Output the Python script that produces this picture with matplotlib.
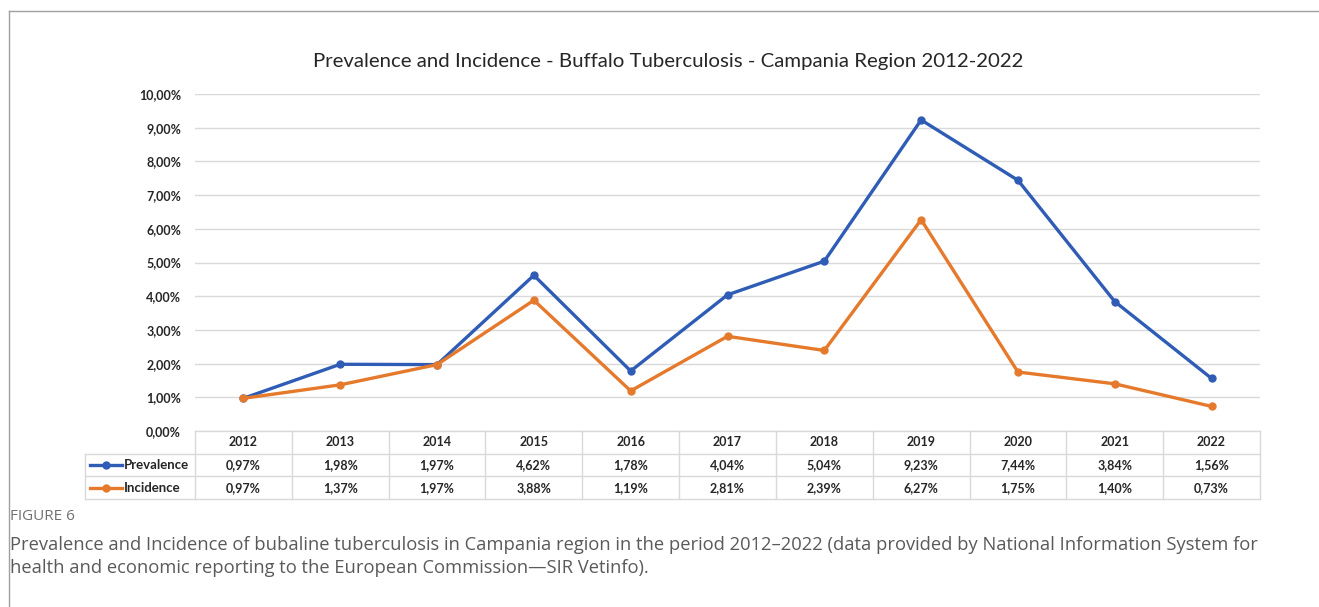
import matplotlib.pyplot as plt
from matplotlib.lines import Line2D
import numpy as np

plt.rcParams['font.family'] = ['Lato', 'DejaVu Sans']

years = ['2012', '2013', '2014', '2015', '2016', '2017', '2018', '2019', '2020', '2021', '2022']
prevalence = [0.97, 1.98, 1.97, 4.62, 1.78, 4.04, 5.04, 9.23, 7.44, 3.84, 1.56]
incidence = [0.97, 1.37, 1.97, 3.88, 1.19, 2.81, 2.39, 6.27, 1.75, 1.40, 0.73]
series_names = ['Prevalence', 'Incidence']

blue = '#2f5cb5'
orange = '#e57a2c'
grid_c = '#d9d9d9'
txt_c = '#262626'

W, H = 1319, 607
fig = plt.figure(figsize=(W / 100, H / 100), dpi=100)


def fx(px):
    return px / W


def fy(py):
    return 1 - py / H


# outer frame (top + left)
fig.add_artist(Line2D([fx(9), 1], [fy(11), fy(11)], color='#a0a0a0', lw=1))
fig.add_artist(Line2D([fx(9), fx(9)], [fy(11), 0], color='#a0a0a0', lw=1))

# main plot
left, right, top, bot = 195, 1260, 94, 431
ax = fig.add_axes([fx(left), fy(bot), fx(right - left), (bot - top) / H])
x = np.arange(len(years))
ax.plot(x, prevalence, color=blue, lw=2.4, marker='o', ms=5, zorder=3)
ax.plot(x, incidence, color=orange, lw=2.4, marker='o', ms=5, zorder=3)
ax.set_xlim(-0.5, len(years) - 0.5)
ax.set_ylim(0, 10)
ax.set_yticks(np.arange(0, 11, 1))
ax.set_yticklabels([f'{v},00%' for v in range(11)], fontsize=9, fontweight='bold', color=txt_c)
ax.tick_params(axis='y', length=0, pad=10)
ax.set_xticks([])
ax.grid(axis='y', color=grid_c, lw=1)
ax.set_axisbelow(True)
for s in ax.spines.values():
    s.set_visible(False)

fig.text(fx(668), fy(61), 'Prevalence and Incidence - Buffalo Tuberculosis - Campania Region 2012-2022',
         ha='center', va='center', fontsize=14.7, color=txt_c)

# data table below the axes
tab = fig.add_axes([fx(left), fy(499), fx(right - left), (499 - bot) / H])
tab.set_xlim(-0.5, len(years) - 0.5)
tab.set_ylim(3, 0)
tab.axis('off')
colw = (right - left) / len(years)
x0 = -0.5 - (left - 85) / colw
lkw = dict(color=grid_c, lw=1, clip_on=False)
tab.plot([-0.5, len(years) - 0.5], [0, 0], **lkw)
for r in (1, 2, 3):
    tab.plot([x0, len(years) - 0.5], [r, r], **lkw)
for c in range(len(years) + 1):
    tab.plot([c - 0.5, c - 0.5], [0, 3], **lkw)
tab.plot([x0, x0], [1, 3], **lkw)

tkw = dict(ha='center', va='center', fontsize=9, fontweight='bold', color=txt_c)
for i, yr in enumerate(years):
    tab.text(i, 0.5, yr, **tkw)
    tab.text(i, 1.5, f'{prevalence[i]:.2f}%'.replace('.', ','), **tkw)
    tab.text(i, 2.5, f'{incidence[i]:.2f}%'.replace('.', ','), **tkw)

k0 = -0.5 - (left - 90) / colw
k1 = -0.5 - (left - 122) / colw
for r, (name, col) in enumerate(zip(series_names, [blue, orange])):
    yy = r + 1.5
    tab.plot([k0, k1], [yy, yy], color=col, lw=2.4, clip_on=False)
    tab.plot([(k0 + k1) / 2], [yy], 'o', color=col, ms=5, clip_on=False)
    tab.text(k1 + 0.02, yy, name, ha='left', va='center', fontsize=9.5,
             fontweight='bold', color=txt_c)

# caption
cap_font = ['Open Sans', 'DejaVu Sans']
fig.text(fx(10), fy(517), 'FIGURE 6', ha='left', va='center', fontsize=11,
         color='#707070', family=cap_font)
fig.text(fx(10), fy(545), 'Prevalence and Incidence of bubaline tuberculosis in Campania region in the period '
         '2012\u20132022 (data provided by National Information System for',
         ha='left', va='center', fontsize=13.25, color='#5a5a5a', family=cap_font)
fig.text(fx(10), fy(568), 'health and economic reporting to the European Commission\u2014SIR Vetinfo).',
         ha='left', va='center', fontsize=13.25, color='#5a5a5a', family=cap_font)

fig.savefig('out.png', dpi=100)
